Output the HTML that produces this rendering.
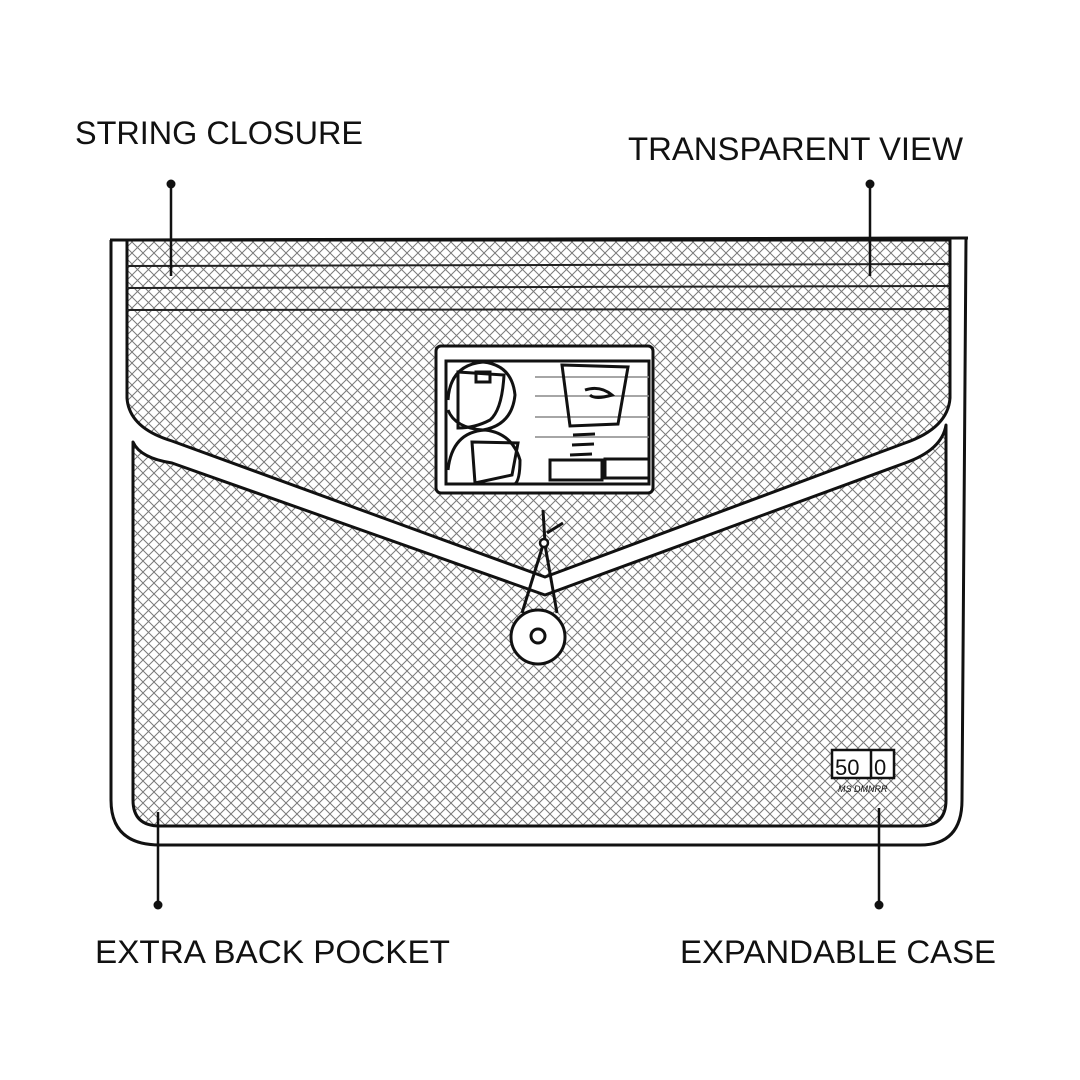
<!DOCTYPE html>
<html><head><meta charset="utf-8"><style>
html,body{margin:0;padding:0;background:#fff}
svg{display:block}
text{font-family:"Liberation Sans",sans-serif;font-size:32px;fill:#111}
</style></head><body>
<svg width="1080" height="1080" viewBox="0 0 1080 1080" xmlns="http://www.w3.org/2000/svg">
<defs>
<pattern id="mesh" width="11" height="11" patternUnits="userSpaceOnUse">
<path d="M-1,-1 L12,12 M-1,10 L1,12 M10,-1 L12,1 M12,-1 L-1,12 M-1,1 L1,-1 M10,12 L12,10" stroke="#7a7a7a" stroke-width="1"/>
</pattern>
</defs>
<rect width="1080" height="1080" fill="#fff"/>
<!-- upper mesh -->
<path d="M127,240 L950,240 L950,398 Q948,428 905,443 L545,577 L172,441 Q129,428 127,398 Z" fill="url(#mesh)" stroke="#111" stroke-width="3" stroke-linejoin="round"/>
<!-- lower mesh -->
<path d="M133,442 Q140,458 172,463 L545,595 L905,463 Q942,450 946,425 L946,800 Q946,826 920,826 L160,826 Q133,826 133,800 Z" fill="url(#mesh)" stroke="#111" stroke-width="3" stroke-linejoin="round"/>
<!-- horizontal lines -->
<g stroke="#222" stroke-width="2">
<line x1="127" y1="266" x2="950" y2="264"/>
<line x1="127" y1="288" x2="950" y2="286"/>
<line x1="127" y1="310" x2="950" y2="309"/>
</g>
<!-- outer contour -->
<path d="M111,240 L111,800 Q111,845 160,845 L920,845 Q962,845 962,800 L966,238" fill="none" stroke="#111" stroke-width="3" stroke-linejoin="round"/>
<line x1="110" y1="240" x2="968" y2="238" stroke="#111" stroke-width="3"/>
<!-- card -->
<rect x="436" y="346" width="217" height="147" rx="5" fill="#fff" stroke="#111" stroke-width="3"/>
<rect x="446" y="361" width="203" height="123" fill="#fff" stroke="#111" stroke-width="3"/>
<g stroke="#888" stroke-width="1.5">
<line x1="535" y1="377" x2="649" y2="377"/><line x1="535" y1="396" x2="649" y2="396"/>
<line x1="535" y1="417" x2="649" y2="417"/><line x1="535" y1="437" x2="649" y2="437"/>
</g>
<g fill="none" stroke="#111" stroke-width="3">
<path d="M448,400 Q450,365 483,362 Q512,365 515,395 Q512,425 483,430 Q455,428 448,410"/>
<path d="M448,470 Q452,432 485,430 Q512,433 520,460 Q520,480 515,484"/>
<path d="M458,372 L504,375 Q502,410 490,420 Q475,428 458,428 Z"/>
<rect x="476" y="372" width="14" height="10"/>
<path d="M472,442 L518,443 L512,475 L475,483 Z"/>
<path d="M562,365 L628,367 L618,424 L570,426 Z"/>
<path d="M585,390 Q600,385 612,395 Q595,400 590,395" />
<path d="M573,435 L595,434 M572,445 L594,444 M570,455 L592,454"/>
<rect x="550" y="460" width="52" height="20"/>
<rect x="605" y="459" width="44" height="19"/>
</g>
<!-- string & button -->
<g stroke="#111" stroke-width="3" fill="none">
<line x1="543" y1="510" x2="545" y2="543"/>
<line x1="547" y1="533" x2="563" y2="523"/>
<line x1="543" y1="545" x2="522" y2="613"/>
<line x1="545" y1="545" x2="557" y2="613"/>
</g>
<circle cx="544" cy="543" r="4" fill="#fff" stroke="#111" stroke-width="2.5"/>
<circle cx="538" cy="637" r="27" fill="#fff" stroke="#111" stroke-width="3"/>
<circle cx="538" cy="636" r="7" fill="#fff" stroke="#111" stroke-width="3"/>
<!-- logo -->
<rect x="832" y="750" width="62" height="28" fill="#fff" stroke="#111" stroke-width="2.5"/>
<line x1="871" y1="750" x2="871" y2="778" stroke="#111" stroke-width="2.5"/>
<text x="835" y="775" style="font-size:22px">50</text>
<text x="874" y="775" style="font-size:22px">0</text>
<text x="838" y="792" style="font-size:9px;font-style:italic">MS DMNRR</text>
<!-- leaders -->
<g stroke="#111" stroke-width="2.5">
<line x1="171" y1="184" x2="171" y2="276"/>
<line x1="870" y1="184" x2="870" y2="276"/>
<line x1="158" y1="812" x2="158" y2="905"/>
<line x1="879" y1="808" x2="879" y2="905"/>
</g>
<g fill="#111">
<circle cx="171" cy="184" r="4.5"/><circle cx="870" cy="184" r="4.5"/>
<circle cx="158" cy="905" r="4.5"/><circle cx="879" cy="905" r="4.5"/>
</g>
<text x="75" y="144" textLength="288" lengthAdjust="spacingAndGlyphs">STRING CLOSURE</text>
<text x="628" y="160" textLength="335" lengthAdjust="spacingAndGlyphs">TRANSPARENT VIEW</text>
<text x="95" y="963" textLength="355" lengthAdjust="spacingAndGlyphs">EXTRA BACK POCKET</text>
<text x="680" y="963" textLength="316" lengthAdjust="spacingAndGlyphs">EXPANDABLE CASE</text>
</svg>
</body></html>
